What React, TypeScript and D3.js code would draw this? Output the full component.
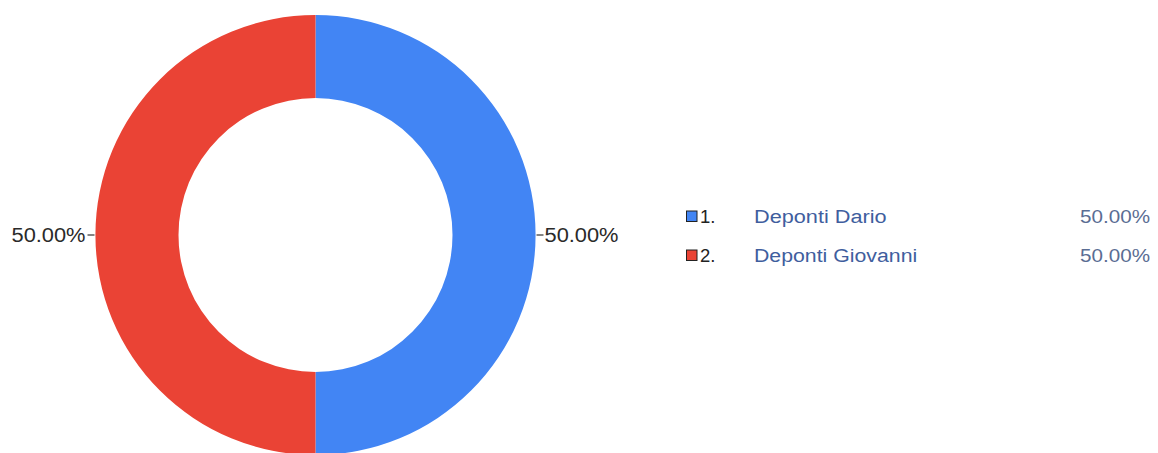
import React from "react";
import * as d3 from "d3";

const names = ["Deponti Dario", "Deponti Giovanni"];
const values = [50, 50];
const colors = ["#4285f4", "#ea4335"];

const W = 1158;
const H = 453;

export default function App() {
  const cx = 315.5;
  const cy = 235;
  const outerR = 220;
  const innerR = 137;
  const total = d3.sum(values);
  const pie = d3.pie<number>().sort(null).startAngle(0).endAngle(2 * Math.PI);
  const arcs = pie(values);
  const arcGen = d3.arc<d3.PieArcDatum<number>>().innerRadius(innerR).outerRadius(outerR);
  const fmt = (v: number) => d3.format(".2f")((v / total) * 100) + "%";

  const legendY = d3.scaleBand<number>().domain(d3.range(names.length)).range([197, 275]);

  return (
    <svg
      width={W}
      height={H}
      style={{ position: "absolute", left: 0, top: 0, display: "block", background: "#fff" }}
      fontFamily="'Liberation Sans', Arial, sans-serif"
    >
      <g transform={`translate(${cx},${cy})`}>
        {arcs.map((a, i) => (
          <path key={i} d={arcGen(a) || ""} fill={colors[i]} />
        ))}
        {arcs.map((a, i) => {
          const mid = (a.startAngle + a.endAngle) / 2;
          const sx = Math.sin(mid);
          const sy = -Math.cos(mid);
          const x1 = sx * (outerR + 1);
          const x2 = sx * (outerR + 8);
          const y1 = sy * (outerR + 1);
          const right = sx >= 0;
          return (
            <g key={"l" + i}>
              <line x1={x1} y1={y1} x2={x2} y2={y1} stroke="#333" strokeWidth={1.2} />
              <text
                x={x2 + (right ? 1 : -2)}
                y={y1}
                dy="0.36em"
                textAnchor={right ? "start" : "end"}
                fontSize={19.5}
                fill="#2a2a2a"
                textLength={74}
                lengthAdjust="spacingAndGlyphs"
              >
                {fmt(a.data)}
              </text>
            </g>
          );
        })}
      </g>
      <g>
        {names.map((n, i) => {
          const yc = (legendY(i) || 0) + legendY.bandwidth() / 2;
          return (
            <g key={"lg" + i}>
              <rect x={686.5} y={yc - 5.5} width={10.5} height={10.5} fill={colors[i]} stroke="#222" strokeWidth={1} />
              <text x={700} y={yc} dy="0.36em" fontSize={18.5} fill="#222">
                {`${i + 1}.`}
              </text>
              <text x={754} y={yc} dy="0.36em" fontSize={18} fill="#3f5e9e" textLength={n.length * 10.2} lengthAdjust="spacingAndGlyphs">
                {n}
              </text>
              <text x={1150} y={yc} dy="0.36em" fontSize={18.5} fill="#5a6d93" textAnchor="end" textLength={70} lengthAdjust="spacingAndGlyphs">
                {fmt(values[i])}
              </text>
            </g>
          );
        })}
      </g>
    </svg>
  );
}
